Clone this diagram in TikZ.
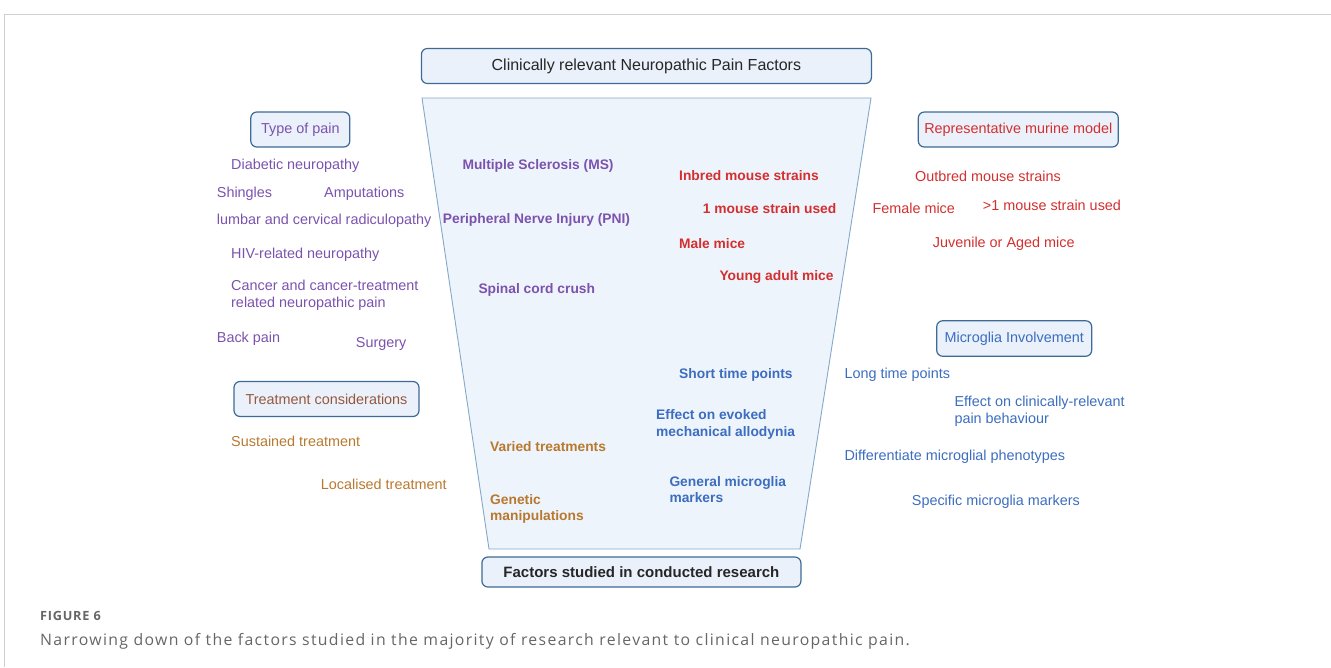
\documentclass[tikz,border=0pt]{standalone}
\usepackage{fontspec}
\setmainfont{Liberation Sans}
\newfontfamily\capfont[LetterSpace=8.5]{Open Sans}
\newfontfamily\figfont[LetterSpace=6]{Open Sans}
\definecolor{boxfill}{HTML}{EAF1FB}
\definecolor{boxline}{HTML}{3D6A96}
\definecolor{funfill}{HTML}{EEF4FC}
\definecolor{funline}{HTML}{86A8C8}
\definecolor{cpur}{HTML}{7B52AE}
\definecolor{cred}{HTML}{D32F2F}
\definecolor{cblue}{HTML}{3C6DBF}
\definecolor{corange}{HTML}{B8792F}
\definecolor{cbrown}{HTML}{95583F}
\definecolor{capgray}{HTML}{666666}
\definecolor{framegray}{HTML}{D0D0D0}
\begin{document}
\begin{tikzpicture}[x=1pt,y=-1pt,
  hdr/.style={draw=boxline, line width=1.2pt, rounded corners=6pt, fill=boxfill,
    inner sep=0pt, font=\fontsize{14.4}{16.5}\selectfont},
  item/.style={anchor=west, inner sep=0pt, text height=10.5pt, text depth=3pt,
    font=\fontsize{14.4}{16.5}\selectfont},
  mitem/.style={anchor=west, inner sep=0pt, align=left,
    font=\fontsize{14.4}{16.5}\selectfont},
  bitem/.style={anchor=west, inner sep=0pt, text height=10.5pt, text depth=3pt,
    font=\fontsize{13.8}{16.5}\selectfont\bfseries},
  mbitem/.style={anchor=west, inner sep=0pt, align=left,
    font=\fontsize{13.8}{16.5}\selectfont\bfseries},
]
\useasboundingbox (0,0) rectangle (1331,667);
% frame
\draw[framegray, line width=1pt] (4.5,667) -- (4.5,14) -- (1331,14);
% funnel
\draw[fill=funfill, draw=funline, line width=0.9pt] (422,98) -- (871,98) -- (800,549) -- (489,549) -- cycle;

% headers
\node[hdr, minimum width=450pt, minimum height=35pt, text=black!85,
  font=\fontsize{16}{18}\selectfont] (top) at (646.4,66) {Clinically relevant Neuropathic Pain Factors};
\node[hdr, minimum width=319pt, minimum height=30pt, text=black!85,
  font=\fontsize{15}{18}\selectfont\bfseries] (bottom) at (641.4,572) {Factors studied in conducted research};
\node[hdr, minimum width=99pt, minimum height=35pt, text=cpur] (typepain) at (300.3,129.5) {Type of pain};
\node[hdr, minimum width=200pt, minimum height=35pt, text=cred] (murine) at (1018.3,129.5) {Representative murine model};
\node[hdr, minimum width=155pt, minimum height=35.5pt, text=cblue] (micro) at (1014.2,338.5) {Microglia Involvement};
\node[hdr, minimum width=185pt, minimum height=35pt, text=cbrown] (treat) at (326.5,399) {Treatment considerations};

% type of pain (left, purple)
\begin{scope}[text=cpur]
\node[item] (p1) at (231,165.3) {Diabetic neuropathy};
\node[item] (p2) at (216.7,193.3) {Shingles};
\node[item] (p3) at (324,193.3) {Amputations};
\node[item] (p4) at (216.7,221) {lumbar and cervical radiculopathy};
\node[item] (p5) at (231,254.3) {HIV-related neuropathy};
\node[mitem] (p6) at (231,295.2) {Cancer and cancer-treatment\\related neuropathic pain};
\node[item] (p7) at (216.7,338.3) {Back pain};
\node[item] (p8) at (355.7,343.7) {Surgery};
\node[bitem] (pb1) at (462.3,166) {Multiple Sclerosis (MS)};
\node[bitem] (pb2) at (442.7,220) {Peripheral Nerve Injury (PNI)};
\node[bitem] (pb3) at (478.3,290) {Spinal cord crush};
\end{scope}

% murine model (red)
\begin{scope}[text=cred]
\node[bitem] (rb1) at (679,177) {Inbred mouse strains};
\node[bitem] (rb2) at (702.7,209.3) {1 mouse strain used};
\node[bitem] (rb3) at (679,244.3) {Male mice};
\node[bitem] (rb4) at (719.3,277) {Young adult mice};
\node[item] (r1) at (915,177.7) {Outbred mouse strains};
\node[item] (r2) at (872.3,209.3) {Female mice};
\node[item] (r3) at (982.7,206.7) {>1 mouse strain used};
\node[item] (r4) at (932.7,243.7) {Juvenile or Aged mice};
\end{scope}

% microglia (blue)
\begin{scope}[text=cblue]
\node[bitem] (bb1) at (679,375) {Short time points};
\node[mbitem] (bb2) at (656,424.2) {Effect on evoked\\mechanical allodynia};
\node[mbitem] (bb3) at (669.3,489.7) {General microglia\\markers};
\node[item] (b1) at (844.3,375) {Long time points};
\node[mitem] (b2) at (954.3,411.2) {Effect on clinically-relevant\\pain behaviour};
\node[item] (b3) at (844.3,457) {Differentiate microglial phenotypes};
\node[item] (b4) at (911.7,501.7) {Specific microglia markers};
\end{scope}

% treatment (orange)
\begin{scope}[text=corange]
\node[bitem] (ob1) at (490,447.7) {Varied treatments};
\node[mbitem] (ob2) at (490,508.8) {Genetic\\manipulations};
\node[item] (o1) at (231,442.7) {Sustained treatment};
\node[item] (o2) at (320.7,486) {Localised treatment};
\end{scope}

% caption
\node[anchor=base west, inner sep=0pt, text=capgray, font=\figfont\fontsize{12.7}{14}\selectfont\bfseries] (fig) at (40,620.5) {FIGURE 6};
\node[anchor=base west, inner sep=0pt, text=capgray, font=\capfont\fontsize{15.8}{18}\selectfont] (cap) at (40,645) {Narrowing down of the factors studied in the majority of research relevant to clinical neuropathic pain.};
\end{tikzpicture}
\end{document}
